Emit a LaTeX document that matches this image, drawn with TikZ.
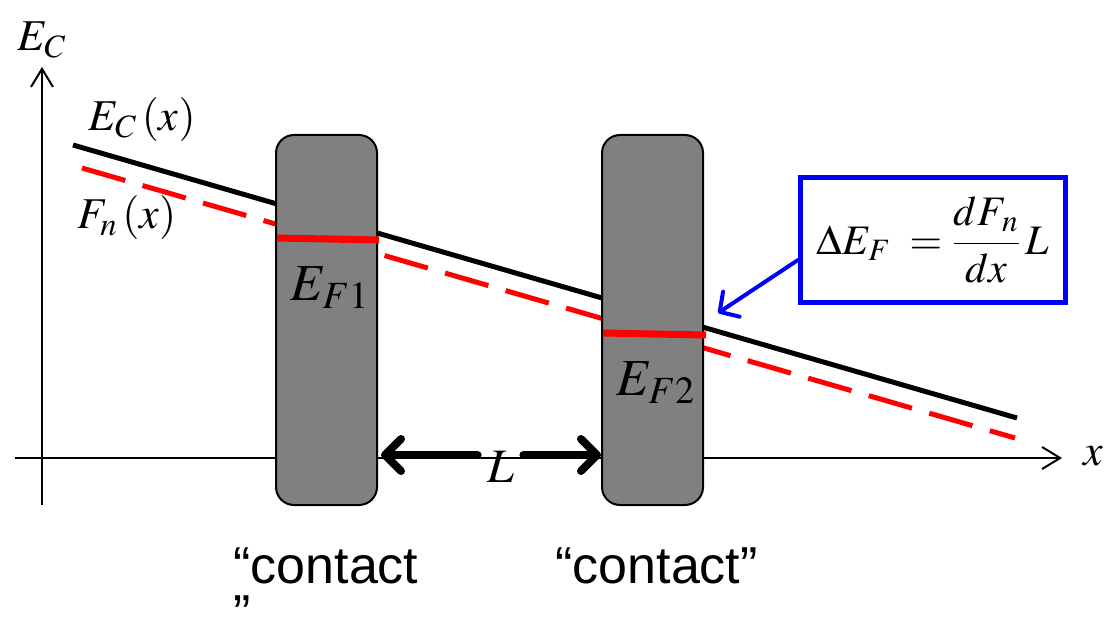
\documentclass[tikz,border=0pt]{standalone}
\usepackage{mathptmx}
\usepackage[no-math]{fontspec}
\setsansfont{Liberation Sans}
\usepackage{amsmath}
\usepackage{tikz}
\usetikzlibrary{positioning, arrows.meta}

\begin{document}
\begin{tikzpicture}[
    x=0.5pt, y=-0.5pt,
    axis/.style={
        draw=black, line width=1pt,
        -{Straight Barb[length=9pt, width=11pt]},
    },
    band/.style={draw=black, line width=2.5pt},
    quasi/.style={draw=red, line width=2.5pt, dash pattern=on 22.5pt off 9pt},
    fermi/.style={draw=red, line width=3.5pt},
    contact/.style={
        draw=black, line width=1pt, fill=black!50, rounded corners=9pt,
        minimum width=50.5pt, minimum height=185pt, inner sep=0pt,
    },
    lbl/.style={inner sep=0pt, font=\fontsize{22}{26}\selectfont},
    big/.style={inner sep=0pt, font=\fontsize{26}{30}\selectfont},
    word/.style={
        inner sep=0pt, align=left,
        font=\fontsize{26}{26}\selectfont\sffamily,
    },
    eqbox/.style={
        draw=blue, line width=2.5pt, inner sep=2pt,
        minimum width=132.5pt, minimum height=62.5pt,
        font=\fontsize{21}{24}\selectfont,
    },
    callout/.style={
        draw=blue, line width=2pt, line cap=round,
        -{Straight Barb[length=7pt, width=15pt, round]},
    },
    span/.style={
        draw=black, line width=4pt, line cap=round,
        -{Straight Barb[length=8pt, width=16pt, round]},
    },
]
\useasboundingbox (0,0) rectangle (1111,624);

% ── Axes ─────────────────────────────────────────────────────────────
\coordinate (ybot)   at (42,505);
\coordinate (ytip)   at (42,67);
\coordinate (xstart) at (15,458);
\coordinate (xtip)   at (1062,458);
\draw[axis] (ybot) -- (ytip);
\draw[axis] (xstart) -- (xtip);
\node[lbl] (eclab) at (42,40)   {$E_C$};
\node[lbl] (xlab)  at (1093,456) {$x$};

% ── Band edge and quasi-Fermi level ──────────────────────────────────
\coordinate (ecA) at (73,145);
\coordinate (ecB) at (1017,418);
\coordinate (fnA) at (82,168);
\coordinate (fnB) at (1015,438);
\draw[band]  (ecA) -- (ecB);
\draw[quasi] (fnA) -- (fnB);
\node[lbl] (ecxlab) at (142,120) {$E_{C}\,(x)$};
\node[lbl] (fnxlab) at (127,218) {$F_{n}\,(x)$};

% ── Contacts ─────────────────────────────────────────────────────────
\node[contact] (c1) at (326.5,320) {};
\node[contact] (c2) at (652.5,320) {};

\coordinate (ef1a) at (277,238);
\coordinate (ef1b) at (379,240);
\coordinate (ef2a) at (603,333);
\coordinate (ef2b) at (706,335);
\draw[fermi] (ef1a) -- (ef1b);
\draw[fermi] (ef2a) -- (ef2b);
\node[big] (ef1lab) at (330,288) {$E_{F1}$};
\node[big] (ef2lab) at (656,383) {$E_{F2}$};

\node[word, anchor=north west] (w1) at (233,547) {“contact\\[-2pt]”};
\node[word, anchor=north west] (w2) at (555,547) {“contact”};

% ── Spacing L between the contacts ───────────────────────────────────
\node[lbl, font=\fontsize{24}{28}\selectfont, minimum width=22.5pt] (Llab) at (500.5,467) {$L$};
\coordinate (gapL) at (381,455);
\coordinate (gapR) at (601,455);
\draw[span] (Llab.west |- gapL) -- (gapL);
\draw[span] (Llab.east |- gapR) -- (gapR);

% ── Formula box and callout ──────────────────────────────────────────
\node[eqbox] (dEF) at (933,240) {$\Delta E_{F}\;=\dfrac{dF_{\,n}}{dx}\,L$};
\coordinate (aim) at (718,313);
\draw[callout] ([yshift=-10pt]dEF.west) -- (aim);

\end{tikzpicture}
\end{document}
